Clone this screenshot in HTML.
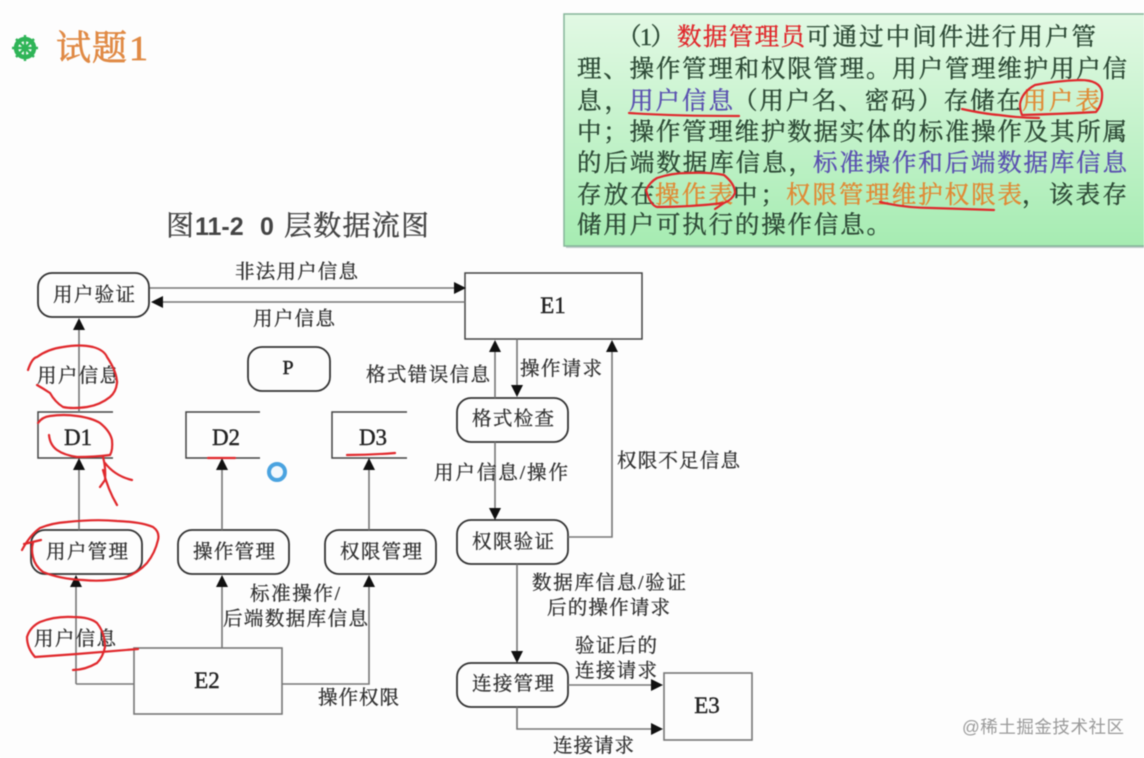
<!DOCTYPE html>
<html lang="zh"><head><meta charset="utf-8"><title>试题1</title>
<style>
html,body{margin:0;padding:0;background:#fdfdfd;width:1144px;height:758px;overflow:hidden}
svg{display:block;filter:blur(.5px)}
text{font-family:"Liberation Serif","Noto Serif CJK SC",serif}
.l{font-size:19.5px;fill:#333;stroke:#333;stroke-width:.35}
.t{font-size:24.5px;fill:#2d4a36;stroke:#2d4a36;stroke-width:.4}
.s{fill:none;stroke:#444;stroke-width:1.5}
.b{fill:none;stroke:#333;stroke-width:1.8}
.g{fill:none;stroke:#777;stroke-width:1.6}
.r{fill:none;stroke:#e0282c;stroke-width:2.2;stroke-linejoin:round;stroke-linecap:round}
.e{font-size:23px;fill:#222;text-anchor:middle;stroke:#222;stroke-width:.4}
.red{fill:#e0282c;stroke:#e0282c}
.blue{fill:#5a50b0;stroke:#5a50b0}
.or{fill:#e08a35;stroke:#e08a35}
</style></head><body>
<svg width="1144" height="758" viewBox="0 0 1144 758" xmlns="http://www.w3.org/2000/svg">
<defs>
<linearGradient id="gb" x1="0" y1="0" x2="0" y2="1"><stop offset="0" stop-color="#e2f9e4"/><stop offset="1" stop-color="#a6ecb2"/></linearGradient>
</defs>
<rect width="1144" height="758" fill="#fdfdfd"/>

<!-- title -->
<g transform="translate(25,48)">
<circle r="9" fill="none" stroke="#2fb457" stroke-width="4.5"/>
<circle r="3.5" fill="#2fb457"/>
<g stroke="#2fb457" stroke-width="2.4"><path d="M0-13V13M-13 0H13M-9-9L9 9M-9 9L9-9"/></g>
</g>
<text x="56" y="60" font-size="35" fill="#e08a45" stroke="#e08a45" stroke-width=".7" textLength="71">试题</text>
<text x="129" y="60" font-size="35" fill="#e08a45" stroke="#e08a45" stroke-width=".7" textLength="19" lengthAdjust="spacingAndGlyphs">1</text>

<!-- caption -->
<text x="166" y="235" font-size="28" fill="#444" stroke="#444" stroke-width=".4">图</text>
<text x="195" y="235" font-size="25" font-weight="bold" fill="#444" style="font-family:'Liberation Sans',sans-serif">11-2</text>
<text x="260" y="235" font-size="25" font-weight="bold" fill="#444" style="font-family:'Liberation Sans',sans-serif">0</text>
<text x="284" y="235" font-size="28" fill="#444" stroke="#444" stroke-width=".4" textLength="145">层数据流图</text>

<!-- green box -->
<rect x="566" y="17" width="580" height="231" fill="#9aa" opacity=".6"/>
<rect x="564" y="14" width="582" height="232" fill="url(#gb)" stroke="#86b59a" stroke-width="1.5"/>
<text class="t" x="617" y="45" textLength="58">（1）</text>
<text class="t red" x="677" y="45" textLength="128">数据管理员</text>
<text class="t" x="806" y="45" textLength="290">可通过中间件进行用户管</text>
<text class="t" x="577" y="77" textLength="550">理、操作管理和权限管理。用户管理维护用户信</text>
<text class="t" x="577" y="109" textLength="52">息，</text>
<text class="t blue" x="629" y="109" textLength="104">用户信息</text>
<text class="t" x="733" y="109" textLength="288">（用户名、密码）存储在</text>
<text class="t or" x="1022" y="109" textLength="78">用户表</text>
<text class="t" x="577" y="140" textLength="550">中；操作管理维护数据实体的标准操作及其所属</text>
<text class="t" x="577" y="171" textLength="236">的后端数据库信息，</text>
<text class="t blue" x="813" y="171" textLength="314">标准操作和后端数据库信息</text>
<text class="t" x="577" y="203" textLength="78">存放在</text>
<text class="t or" x="655" y="203" textLength="78">操作表</text>
<text class="t" x="733" y="203" textLength="52">中；</text>
<text class="t or" x="786" y="203" textLength="236">权限管理维护权限表</text>
<text class="t" x="1022" y="203" textLength="105">，该表存</text>
<text class="t" x="577" y="233" textLength="314">储用户可执行的操作信息。</text>

<!-- nodes -->
<rect class="b" x="38" y="273" width="111" height="44" rx="14"/>
<rect class="b" x="248" y="347" width="82" height="44" rx="14"/>
<rect class="b" x="31" y="530" width="111" height="44" rx="14"/>
<rect class="b" x="178" y="530" width="111" height="44" rx="14"/>
<rect class="b" x="325" y="530" width="111" height="44" rx="14"/>
<rect class="b" x="457" y="398" width="111" height="44" rx="14"/>
<rect class="b" x="457" y="520" width="111" height="44" rx="14"/>
<rect class="b" x="457" y="663" width="111" height="44" rx="14"/>
<rect class="s" x="465" y="273" width="177" height="66"/>
<rect class="g" x="134" y="648" width="148" height="66"/>
<rect class="g" x="664" y="673" width="88" height="67"/>
<path class="s" d="M113 412H38V458H113M260 412H186V458H260M407 412H332V458H407"/>

<!-- connectors -->
<path class="g" d="M150 288H455M465 302H161M79 412V328M79 530V468M222 530V468M369 530V468M76 684V585M134 684H76M222 648V585M282 684H369V585"/>
<path class="g" d="M495 398V350M517 339V386M495 442V510M568 537H612V350M517 564V652M568 685H653M517 707V729H653"/>
<g fill="#111">
<path d="M466 288L454 282V294Z"/>
<path d="M151 302L163 296V308Z"/>
<path d="M79 318L73 330H85Z"/>
<path d="M79 458L73 470H85Z"/>
<path d="M222 458L216 470H228Z"/>
<path d="M369 458L363 470H375Z"/>
<path d="M76 575L70 587H82Z"/>
<path d="M222 575L216 587H228Z"/>
<path d="M369 575L363 587H375Z"/>
<path d="M495 340L489 352H501Z"/>
<path d="M517 397L511 385H523Z"/>
<path d="M495 520L489 508H501Z"/>
<path d="M612 340L606 352H618Z"/>
<path d="M517 663L511 651H523Z"/>
<path d="M663 685L651 679V691Z"/>
<path d="M663 729L651 723V735Z"/>
</g>

<!-- node text -->
<text class="l" x="53" y="301" textLength="82">用户验证</text>
<text class="l" x="46" y="558" textLength="82">用户管理</text>
<text class="l" x="193" y="558" textLength="82">操作管理</text>
<text class="l" x="340" y="558" textLength="82">权限管理</text>
<text class="l" x="472" y="425" textLength="82">格式检查</text>
<text class="l" x="472" y="548" textLength="82">权限验证</text>
<text class="l" x="472" y="690" textLength="82">连接管理</text>
<text class="e" x="553" y="313">E1</text>
<text class="e" x="207" y="688">E2</text>
<text class="e" x="707" y="713">E3</text>
<text class="e" x="78" y="445">D1</text>
<text class="e" x="226" y="445">D2</text>
<text class="e" x="373" y="445">D3</text>
<text class="e" x="288" y="374" style="font-size:20px">P</text>

<!-- labels -->
<text class="l" x="235" y="278" textLength="123">非法用户信息</text>
<text class="l" x="253" y="325" textLength="82">用户信息</text>
<text class="l" x="37" y="382" textLength="82">用户信息</text>
<text class="l" x="34" y="645" textLength="82">用户信息</text>
<text class="l" x="250" y="600" textLength="90">标准操作/</text>
<text class="l" x="223" y="625" textLength="145">后端数据库信息</text>
<text class="l" x="318" y="704" textLength="81">操作权限</text>
<text class="l" x="366" y="381" textLength="124">格式错误信息</text>
<text class="l" x="520" y="375" textLength="82">操作请求</text>
<text class="l" x="434" y="479" textLength="134">用户信息/操作</text>
<text class="l" x="617" y="467" textLength="123">权限不足信息</text>
<text class="l" x="532" y="589" textLength="154">数据库信息/验证</text>
<text class="l" x="547" y="614" textLength="123">后的操作请求</text>
<text class="l" x="575" y="652" textLength="82">验证后的</text>
<text class="l" x="575" y="677" textLength="82">连接请求</text>
<text class="l" x="553" y="752" textLength="81">连接请求</text>

<!-- ring -->
<circle cx="277" cy="472" r="8" fill="#f2f8fd" stroke="#4aa3e0" stroke-width="4"/>

<!-- red scribbles -->
<path class="r" d="M28 370Q32 358 37 357Q48 349 63 347Q80 344 93 347Q104 350 107 357Q117 372 117 383Q116 392 110 397Q100 405 87 407Q72 409 63 407Q55 402 50 393Q44 389 37 385"/>
<path class="r" d="M38 423Q42 417 50 416Q64 414 77 416Q92 418 100 423Q110 431 112 440Q113 450 110 455Q95 457 77 457Q64 455 57 450Q50 445 49 435"/>
<path class="r" d="M103 457Q106 468 105 480L100 487M105 463Q115 476 132 480M103 470Q108 490 117 505"/>
<path class="r" d="M22 550Q30 535 40 528Q52 523 67 522Q95 519 117 521Q142 522 153 527Q160 532 158 540Q155 553 147 563Q137 574 123 578Q103 582 83 580Q60 579 43 572Q35 566 33 557Q31 549 33 543M24 544L41 540"/>
<path class="r" d="M35 657Q27 648 27 637Q30 627 40 622Q55 616 73 617Q90 617 97 623Q105 633 105 647Q103 657 97 663Q85 670 73 670M35 657L77 654L138 649"/>
<path class="r" d="M208 458H235M347 455Q370 455 395 453"/>
<path class="r" d="M629 113Q672 116 739 116M962 109Q985 114 999 115Q1020 118 1039 118"/>
<path class="r" d="M1020 104Q1022 92 1035 85Q1055 81 1080 80Q1100 80 1102 92Q1103 104 1096 112Q1060 114 1022 115Q1020 110 1020 104"/>
<path class="r" d="M646 190Q650 182 657 178Q672 173 687 173Q710 172 724 175Q735 184 735 193Q732 200 724 203Q690 207 657 207Q650 205 646 190M724 203L715 209"/>
<path class="r" d="M880 202Q905 208 932 208Q965 209 994 210"/>

<!-- watermark -->
<text x="962" y="733" font-size="17.5" fill="#9a9a9a" textLength="162" style="font-family:'Liberation Sans','Noto Sans CJK SC',sans-serif">@稀土掘金技术社区</text>
</svg>
</body></html>
